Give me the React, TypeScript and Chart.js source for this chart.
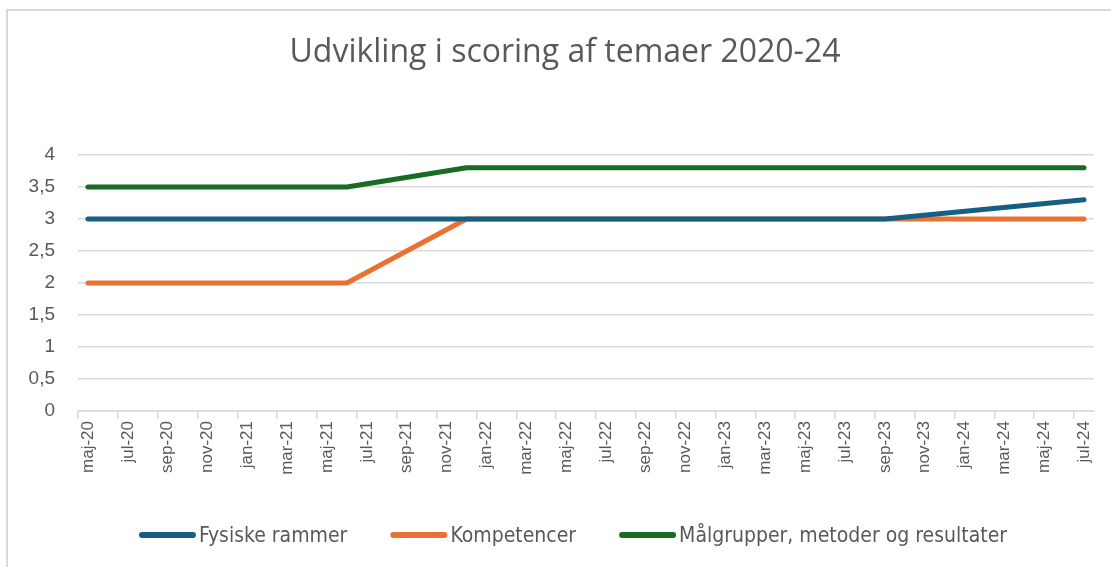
import React, { useEffect, useRef } from "react";
import { Chart, registerables } from "chart.js";

Chart.register(...registerables);

const titleText = "Udvikling i scoring af temaer 2020-24";

const xTickLabels = [
  "maj-20", "jul-20", "sep-20", "nov-20",
  "jan-21", "mar-21", "maj-21", "jul-21", "sep-21", "nov-21",
  "jan-22", "mar-22", "maj-22", "jul-22", "sep-22", "nov-22",
  "jan-23", "mar-23", "maj-23", "jul-23", "sep-23", "nov-23",
  "jan-24", "mar-24", "maj-24", "jul-24",
];

const pointDates = ["maj-20", "jun-21", "dec-21", "sep-23", "jul-24"];

const fysiskeRammer = [3, 3, 3, 3, 3.3];
const kompetencer = [2, 2, 3, 3, 3];
const maalgrupper = [3.5, 3.5, 3.8, 3.8, 3.8];

const seriesNames = ["Fysiske rammer", "Kompetencer", "Målgrupper, metoder og resultater"];
const seriesColors = ["#156082", "#E97132", "#196B24"];

const monthNames = ["jan", "feb", "mar", "apr", "maj", "jun", "jul", "aug", "sep", "okt", "nov", "dec"];

function monthIndex(label: string): number {
  const [m, y] = label.split("-");
  const start = 2020 * 12 + 4; // maj-20
  return (2000 + parseInt(y, 10)) * 12 + monthNames.indexOf(m) - start;
}

const GRAY = "#595959";
const GRID = "#d9d9d9";
const LEGEND_FONT = "21px 'Liberation Sans Narrow', 'DejaVu Sans Condensed', sans-serif";
const TITLE_FONT = "32px 'Open Sans', sans-serif";

const titleAndLegend = {
  id: "titleAndLegend",
  afterDraw(chart: any) {
    const ctx = chart.ctx as CanvasRenderingContext2D;
    ctx.save();
    // title
    ctx.font = TITLE_FONT;
    ctx.fillStyle = GRAY;
    ctx.textAlign = "center";
    ctx.textBaseline = "middle";
    ctx.fillText(titleText, 565, 53);

    // legend
    const sampleW = 57;
    const textGap = 3;
    const itemGap = 43;
    const cy = 535;
    ctx.font = LEGEND_FONT;
    const items = chart.data.datasets.map((ds: any) => ({
      label: ds.label as string,
      color: ds.borderColor as string,
      tw: ctx.measureText(ds.label).width,
    }));
    const total =
      items.reduce((a: number, it: any) => a + sampleW + textGap + it.tw, 0) +
      itemGap * (items.length - 1);
    let x = 573 - total / 2;
    for (const it of items) {
      ctx.strokeStyle = it.color;
      ctx.lineWidth = 6;
      ctx.lineCap = "round";
      ctx.beginPath();
      ctx.moveTo(x + 3, cy);
      ctx.lineTo(x + sampleW - 3, cy);
      ctx.stroke();
      ctx.fillStyle = GRAY;
      ctx.textAlign = "left";
      ctx.textBaseline = "middle";
      ctx.fillText(it.label, x + sampleW + textGap, cy + 2);
      x += sampleW + textGap + it.tw + itemGap;
    }
    ctx.restore();
  },
};

export default function App() {
  const canvasRef = useRef<HTMLCanvasElement | null>(null);

  useEffect(() => {
    if (!canvasRef.current) return;
    const xs = pointDates.map((d) => monthIndex(d) + 0.5);
    const seriesValues = [fysiskeRammer, kompetencer, maalgrupper];
    const chart = new Chart(canvasRef.current, {
      type: "line",
      data: {
        datasets: seriesValues.map((vals, i) => ({
          label: seriesNames[i],
          data: vals.map((v, j) => ({ x: xs[j], y: v })),
          borderColor: seriesColors[i],
          backgroundColor: seriesColors[i],
          borderWidth: 5,
          borderCapStyle: "round" as const,
          borderJoinStyle: "round" as const,
          pointRadius: 0,
          pointHoverRadius: 0,
          tension: 0,
        })),
      },
      plugins: [titleAndLegend],
      options: {
        animation: false,
        responsive: false,
        maintainAspectRatio: false,
        layout: { padding: { left: 10, right: 17, top: 155, bottom: 56 } },
        plugins: {
          title: { display: false },
          legend: { display: false },
          tooltip: { enabled: false },
        },
        scales: {
          x: {
            type: "linear",
            min: 0,
            max: 51,
            afterFit: (s: any) => {
              s.height = 100;
            },
            grid: {
              drawOnChartArea: false,
              drawTicks: true,
              tickLength: 8,
              color: GRID,
              lineWidth: 1.5,
            },
            border: { display: true, color: GRID, width: 1.5 },
            ticks: {
              stepSize: 2,
              includeBounds: false,
              autoSkip: false,
              minRotation: 90,
              maxRotation: 90,
              labelOffset: 10,
              padding: 2,
              color: GRAY,
              font: { family: "'Liberation Sans', Arial, sans-serif", size: 17 },
              callback: (v: any) => {
                const idx = Math.round(Number(v) / 2);
                return Number(v) % 2 === 0 ? xTickLabels[idx] ?? "" : "";
              },
            },
          },
          y: {
            min: 0,
            max: 4,
            afterFit: (s: any) => {
              s.width = 68;
            },
            grid: { color: GRID, lineWidth: 1.5, drawTicks: false },
            border: { display: false },
            ticks: {
              stepSize: 0.5,
              padding: 23,
              color: GRAY,
              font: { family: "'Liberation Sans', Arial, sans-serif", size: 19 },
              callback: (v: any) => String(v).replace(".", ","),
            },
          },
        },
      },
    });
    return () => chart.destroy();
  }, []);

  return (
    <div
      style={{
        position: "fixed",
        left: 0,
        top: 0,
        width: 1111,
        height: 567,
        background: "#fff",
        overflow: "hidden",
      }}
    >
      <div
        style={{
          position: "absolute",
          left: 6,
          top: 9,
          width: 1200,
          height: 700,
          borderTop: "2px solid #d9d9d9",
          borderLeft: "2px solid #d9d9d9",
        }}
      />
      <canvas
        ref={canvasRef}
        width={1111}
        height={567}
        style={{ position: "absolute", left: 0, top: 0, width: 1111, height: 567 }}
      />
    </div>
  );
}
